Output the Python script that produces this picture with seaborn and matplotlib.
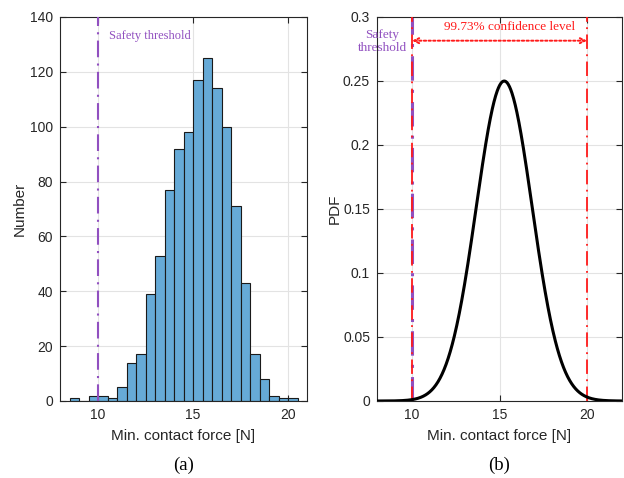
import numpy as np
import pandas as pd
import matplotlib
matplotlib.use("Agg")
import matplotlib.pyplot as plt
import seaborn as sns

# Histogram of minimum contact force (bin edges every 0.5 N)
bin_edges = [8.5 + 0.5 * k for k in range(25)]
bin_counts = [1, 0, 2, 2, 1, 5, 14, 17, 39, 53, 77, 92, 98, 117,
              125, 114, 100, 71, 43, 17, 8, 2, 1, 1]

# Fitted normal distribution
pdf_mean = 15.27
pdf_std = 1.596

safety_threshold = 10
confidence_bounds = [10, 20]
confidence_label = "99.73% confidence level"

hist_yticks = [0, 20, 40, 60, 80, 100, 120, 140]
pdf_yticks = [0, 0.05, 0.1, 0.15, 0.2, 0.25, 0.3]
pdf_yticklabels = ["0", "0.05", "0.1", "0.15", "0.2", "0.25", "0.3"]
xticks = [10, 15, 20]

sns.set_theme(style="white")
plt.rcParams["font.family"] = ["Liberation Sans", "DejaVu Sans"]
plt.rcParams["axes.edgecolor"] = "#262626"
plt.rcParams["axes.linewidth"] = 0.8

SERIF = ["Liberation Serif", "DejaVu Serif"]
PURPLE = "#9150C0"
RED = "#FF1A1A"
BAR = "#66AAD7"
GRID = "#E3E3E3"

fig = plt.figure(figsize=(6.24, 4.78), dpi=100)
ax1 = fig.add_axes([60 / 624, 1 - 401 / 478, 247 / 624, 384 / 478])
ax2 = fig.add_axes([377 / 624, 1 - 401 / 478, 245 / 624, 384 / 478])


def style_axes(ax):
    ax.grid(True, color=GRID, linewidth=0.8)
    ax.set_axisbelow(True)
    ax.tick_params(direction="in", length=4, width=0.8, top=True, right=True,
                   bottom=True, left=True, labelsize=10, colors="#262626",
                   labelcolor="#262626", pad=5)
    for s in ax.spines.values():
        s.set_visible(True)
        s.set_color("#262626")
        s.set_linewidth(0.8)


# ---- (a) histogram ----
centers = [(bin_edges[i] + bin_edges[i + 1]) / 2 for i in range(len(bin_counts))]
hist_df = pd.DataFrame({"force": centers, "count": bin_counts})
sns.histplot(data=hist_df, x="force", weights="count", bins=bin_edges,
             color=BAR, alpha=1.0, edgecolor="#1a1a1a", linewidth=0.8, ax=ax1)
ax1.axvline(safety_threshold, color=PURPLE, linestyle=(0, (8, 3, 1, 3)),
            linewidth=1.5, zorder=3)
ax1.text(safety_threshold + 0.6, 133, "Safety threshold", color=PURPLE,
         fontsize=9, family=SERIF, va="center", ha="left")
ax1.set_xlim(8, 21)
ax1.set_ylim(0, 140)
ax1.set_xticks(xticks)
ax1.set_yticks(hist_yticks)
ax1.set_xlabel("Min. contact force [N]", fontsize=11, color="#262626", labelpad=5)
ax1.set_ylabel("Number", fontsize=11, color="#262626", labelpad=2)
style_axes(ax1)

# ---- (b) fitted PDF ----
xs = np.linspace(8, 22, 600)
pdf = np.exp(-0.5 * ((xs - pdf_mean) / pdf_std) ** 2) / (pdf_std * np.sqrt(2 * np.pi))
pdf_df = pd.DataFrame({"force": xs, "pdf": pdf})
sns.lineplot(data=pdf_df, x="force", y="pdf", color="black", linewidth=2.2,
             ax=ax2, zorder=4)
ax2.axvline(safety_threshold, color=PURPLE, linestyle=(0, (8, 3, 1, 3)),
            linewidth=2.2, zorder=2)
for b in confidence_bounds:
    ax2.axvline(b, color=RED, linestyle=(0, (8, 3, 1, 3)), linewidth=1.3, zorder=3)
ax2.annotate("", xy=(confidence_bounds[0], 0.2815), xytext=(confidence_bounds[1], 0.2815),
             arrowprops=dict(arrowstyle="<->", color=RED, linestyle=(0, (1.2, 1.2)),
                             linewidth=1.4, shrinkA=0, shrinkB=0,
                             mutation_scale=9))
ax2.text(15.6, 0.2925, confidence_label, color=RED, fontsize=9.5, family=SERIF,
         ha="center", va="center")
ax2.text(8.32, 0.2807, "Safety\nthreshold", color=PURPLE, fontsize=9.5, family=SERIF,
         ha="center", va="center", linespacing=1.05, clip_on=False)
ax2.set_xlim(8, 22)
ax2.set_ylim(0, 0.3)
ax2.set_xticks(xticks)
ax2.set_yticks(pdf_yticks)
ax2.set_yticklabels(pdf_yticklabels)
ax2.set_xlabel("Min. contact force [N]", fontsize=11, color="#262626", labelpad=5)
ax2.set_ylabel("PDF", fontsize=11, color="#262626", labelpad=1)
style_axes(ax2)

fig.text(183.5 / 624, 1 - 465 / 478, "(a)", family=SERIF, fontsize=13.5,
         ha="center", va="center", color="black")
fig.text(499.5 / 624, 1 - 465 / 478, "(b)", family=SERIF, fontsize=13.5,
         ha="center", va="center", color="black")

fig.savefig("out.png", dpi=100)
